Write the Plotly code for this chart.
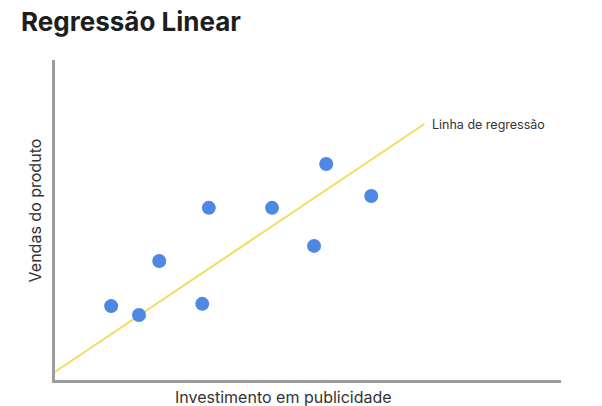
import plotly.graph_objects as go

# data (arbitrary units)
invest = [1.11, 1.66, 2.06, 2.91, 3.04, 4.29, 5.12, 5.36, 6.25]
vendas = [2.31, 2.03, 3.72, 2.38, 5.38, 5.38, 4.19, 6.75, 5.75]
reg_x = [-0.05, 7.3]
reg_y = [0.20, 8.0]

title = "Regressão Linear"
reg_label = "Linha de regressão"
x_title = "Investimento em publicidade"
y_title = "Vendas do produto"

FONT = "Inter"
axis_col = "#9c9c9c"

fig = go.Figure()
fig.add_trace(go.Scatter(x=reg_x, y=reg_y, mode="lines",
                         line=dict(color="#f1dc5e", width=2),
                         hoverinfo="skip", cliponaxis=False, showlegend=False))
fig.add_trace(go.Scatter(x=invest, y=vendas, mode="markers",
                         marker=dict(color="#4f88e3", size=14, line=dict(width=0)),
                         cliponaxis=False, showlegend=False))

fig.add_annotation(x=reg_x[1], y=reg_y[1], xref="x", yref="y", text=reg_label,
                   showarrow=False, xanchor="left", yanchor="middle", xshift=6,
                   font=dict(family=FONT, size=12.5, color="#333333"))
fig.add_annotation(x=0.5, y=0, xref="paper", yref="paper", text=x_title,
                   showarrow=False, xanchor="center", yanchor="middle", yshift=-17,
                   xshift=-25,
                   font=dict(family=FONT, size=16, color="#333333"))
fig.add_annotation(x=0, y=0.53, xref="paper", yref="paper", text=y_title,
                   showarrow=False, textangle=-90, xanchor="center", yanchor="middle",
                   xshift=-20,
                   font=dict(family=FONT, size=16, color="#333333"))

fig.update_layout(
    width=602, height=406,
    margin=dict(l=55, r=41, t=60, b=26),
    paper_bgcolor="white", plot_bgcolor="white",
    title=dict(text="<b>" + title + "</b>", x=0.035, xanchor="left", y=0.945, yanchor="middle",
               font=dict(family=FONT, size=26, color="#1e1e1e")),
    xaxis=dict(range=[0, 10], showgrid=False, zeroline=False, showticklabels=False,
               ticks="", showline=True, linecolor=axis_col, linewidth=3, mirror=False),
    yaxis=dict(range=[0, 10], showgrid=False, zeroline=False, showticklabels=False,
               ticks="", showline=True, linecolor=axis_col, linewidth=3, mirror=False),
)

fig.write_html("out.html")
